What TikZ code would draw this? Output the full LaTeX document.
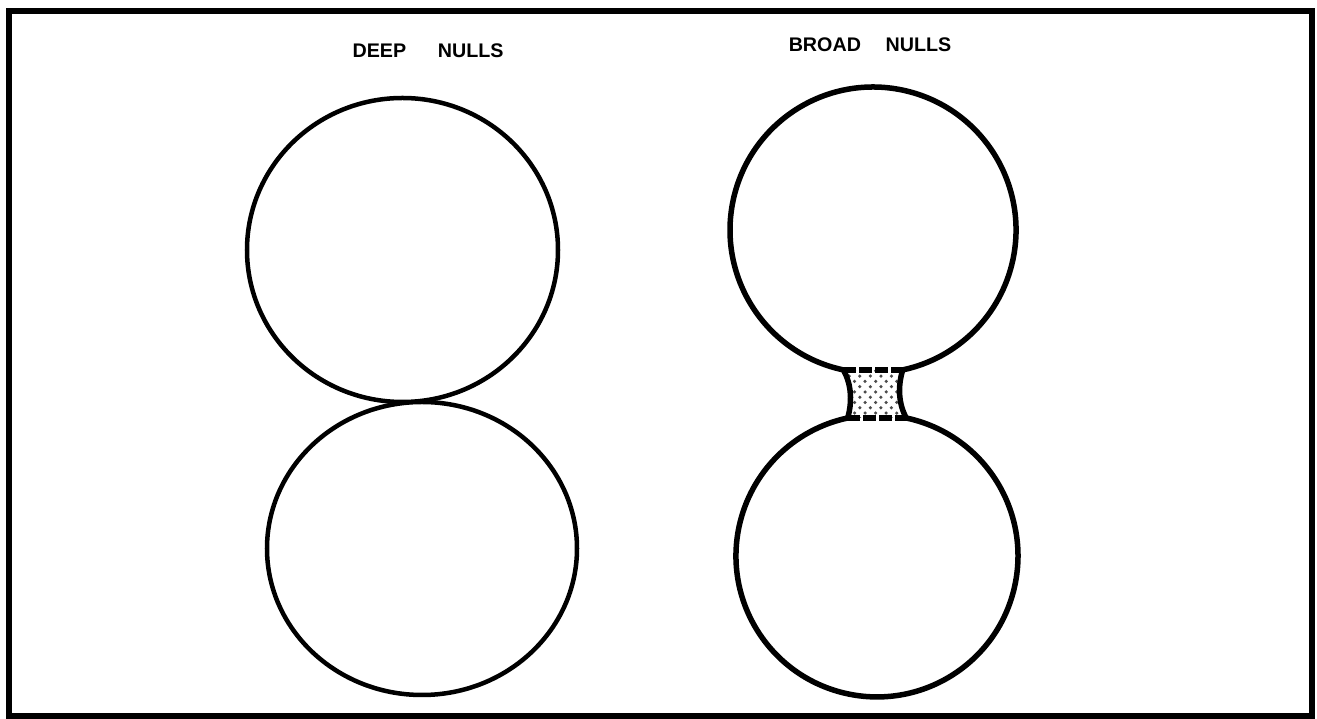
\documentclass[tikz,border=0pt]{standalone}
\usepackage{fontspec}
\setmainfont{Liberation Sans}
\usetikzlibrary{patterns}
\tikzset{
    % Outer frame and lobes
    frame/.style={
        draw=black,
        line width=0.06cm
    },
    lobe/.style={
        draw=black,
        line width=0.045cm
    },
    lobe broad/.style={
        lobe,
        line width=0.055cm,
        line join=round
    },
    null edge/.style={
        draw=black,
        line width=0.06cm,
        dash pattern=on 0.13cm off 0.03cm
    },
    null fill/.style={
        pattern=crosshatch dots,
        pattern color=black!70
    },
    title/.style={
        inner sep=0pt,
        font=\fontsize{5.6}{6.5}\selectfont\bfseries
    }
}

\begin{document}
\begin{tikzpicture}[x=0.01cm, y=-0.01cm]
    \useasboundingbox (0,0) rectangle (1317,719);
    % Frame
    \draw[frame] (9,11) rectangle (1312,716);

    % Titles
    \node[title] (deep title) at (428,51) {DEEP\hspace{9pt}NULLS};
    \node[title] (broad title) at (870,45) {BROAD\hspace{7pt}NULLS};

    % Deep nulls: two lobes just touching
    \draw[lobe] (402.5,250) ellipse [x radius=155.5, y radius=152];
    \draw[lobe] (422,548.5) ellipse [x radius=155, y radius=146.5];

    % Broad nulls: two lobes joined by a shaded neck
    \coordinate (neck tl) at (843.3,369.9);
    \coordinate (neck tr) at (902.7,369.9);
    \coordinate (neck br) at (906.3,418);
    \coordinate (neck bl) at (847.3,418);
    \fill[null fill] (neck tl) -- (neck tr) .. controls (898,385) and (898,403) .. (neck br)
        -- (neck bl) .. controls (852,403) and (852,385) .. (neck tl) -- cycle;
    \draw[lobe broad] (neck tl) arc[start angle=102, end angle=438, radius=143]
        .. controls (898,385) and (898,403) .. (neck br)
        arc[start angle=282, end angle=618, radius=141]
        .. controls (852,403) and (852,385) .. (neck tl) -- cycle;
    \draw[null edge] (neck tl) -- (neck tr);
    \draw[null edge] (neck bl) -- (neck br);
\end{tikzpicture}
\end{document}
